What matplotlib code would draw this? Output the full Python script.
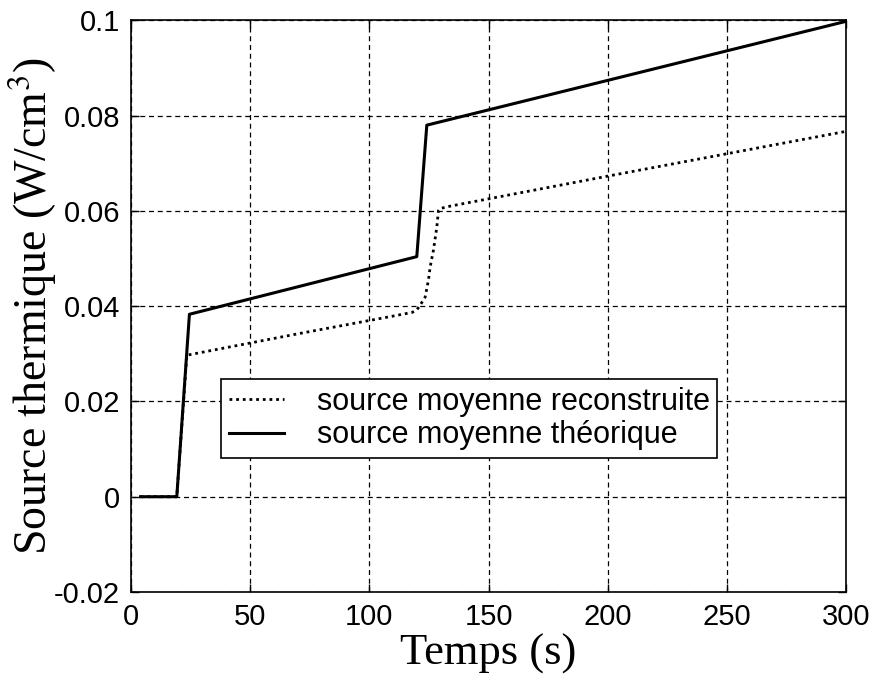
import matplotlib.pyplot as plt
import matplotlib as mpl

# values
t_theo = [4, 19.2, 24.5, 119.9, 124.1, 300]
q_theo = [0.0, 0.0, 0.0383, 0.0504, 0.0780, 0.0998]

t_reco = [4, 19.2, 23.4, 70, 110.8, 118, 120, 121.3, 123.4, 124.8, 125.5,
          126.9, 128.3, 129.0, 129.7, 133.9, 200, 300]
q_reco = [0.0, 0.0, 0.0297, 0.0342, 0.0380, 0.0387, 0.0393, 0.0402, 0.0419,
          0.0455, 0.0482, 0.0518, 0.0566, 0.0601, 0.0605, 0.0610, 0.0673, 0.0767]

x_ticks = [0, 50, 100, 150, 200, 250, 300]
y_ticks = [-0.02, 0, 0.02, 0.04, 0.06, 0.08, 0.1]
y_ticklabels = ['-0.02', '0', '0.02', '0.04', '0.06', '0.08', '0.1']

label_reco = 'source moyenne reconstruite'
label_theo = 'source moyenne théorique'

mpl.rcParams['font.family'] = ['Liberation Sans', 'DejaVu Sans']
mpl.rcParams['mathtext.fontset'] = 'stix'

fig = plt.figure(figsize=(8.77, 6.77), dpi=100)
ax = fig.add_axes([0.1494, 0.1256, 0.8153, 0.8443])

ax.plot(t_reco, q_reco, color='black', lw=2.0, linestyle=(0, (1, 1.4)),
        label=label_reco, zorder=3)
ax.plot(t_theo, q_theo, color='black', lw=2.2, label=label_theo, zorder=4)

ax.set_xlim(0, 300)
ax.set_ylim(-0.02, 0.1)
ax.set_xticks(x_ticks)
ax.set_yticks(y_ticks)
ax.set_yticklabels(y_ticklabels)
ax.tick_params(direction='in', length=6, width=1, labelsize=21,
               top=True, right=True, pad=8)
ax.grid(True, color='black', linestyle=(0, (4, 3)), linewidth=0.9)
for s in ax.spines.values():
    s.set_linewidth(1.2)

ax.set_xlabel('Temps (s)', family='Liberation Serif', fontsize=32, labelpad=2)
ax.set_ylabel('Source thermique (W/cm$^{3}$)', family='Liberation Serif',
              fontsize=33, labelpad=-4)

leg = ax.legend(loc='upper left', bbox_to_anchor=(0.1259, 0.3726),
                borderaxespad=0, fontsize=22, handlelength=1.8,
                handletextpad=1.08, borderpad=0.25, labelspacing=0.12,
                fancybox=False, framealpha=1, edgecolor='black')
leg.get_frame().set_linewidth(1.2)

fig.savefig('out.png', dpi=100)
